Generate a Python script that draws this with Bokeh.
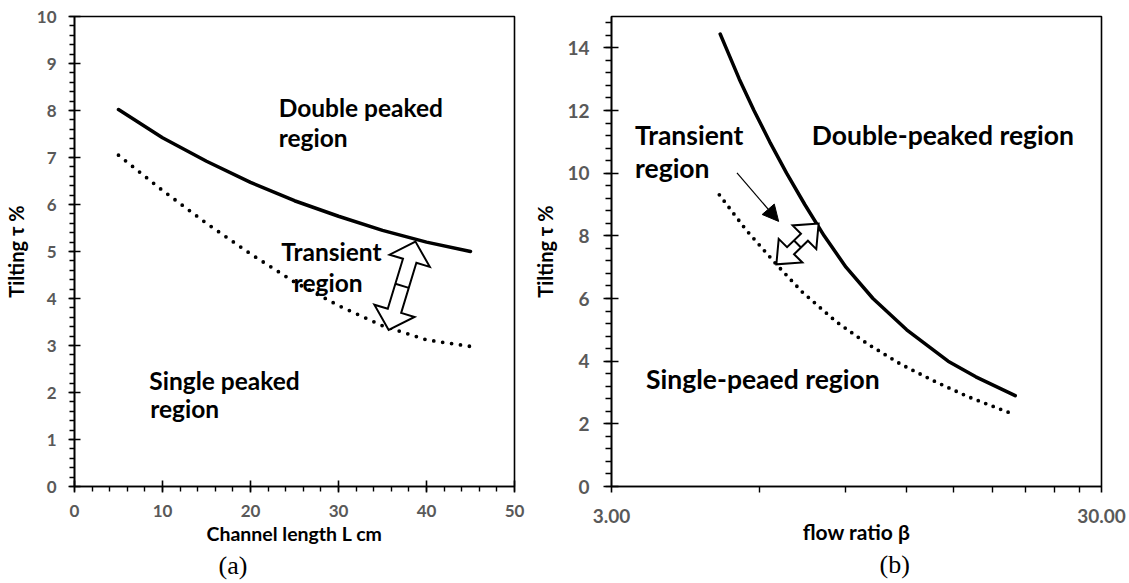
import math
from bokeh.plotting import figure
from bokeh.layouts import row
from bokeh.models import FixedTicker, PrintfTickFormatter, Title, Arrow, NormalHead
from bokeh.core.properties import value
from bokeh.embed import file_html
from bokeh.resources import INLINE

# ---------------- data: panel (a) ----------------
L_cm = [5, 10, 15, 20, 25, 30, 35, 40, 45]
tau_double_a = [8.02, 7.42, 6.92, 6.47, 6.08, 5.75, 5.45, 5.20, 5.00]
tau_single_a = [7.05, 6.30, 5.60, 4.95, 4.35, 3.85, 3.42, 3.12, 2.98]
x_ticks_a = [0, 10, 20, 30, 40, 50]
y_ticks_a = [0, 1, 2, 3, 4, 5, 6, 7, 8, 9, 10]

# ---------------- data: panel (b) ----------------
beta_double = [5.00, 5.14, 5.47, 5.86, 6.31, 6.83, 7.44, 8.15, 9.03, 10.25, 12.01, 14.59, 16.62, 20.0]
tau_double_b = [14.44, 14.0, 13.0, 12.0, 11.0, 10.0, 9.0, 8.0, 7.0, 6.0, 5.0, 4.0, 3.5, 2.90]
beta_single = [4.98, 5.64, 6.51, 7.36, 8.64, 10.02, 11.69, 13.68, 16.0, 19.5]
tau_single_b = [9.31, 8.20, 7.09, 6.20, 5.25, 4.54, 3.90, 3.36, 2.87, 2.35]
x_ticks_b = [3, 30]
y_ticks_b = [0, 2, 4, 6, 8, 10, 12, 14]

# annotation anchors (data coordinates)
arrow_a = [(38.75, 5.21), (35.7, 3.33)]
arrow_b = [(7.94, 8.39), (6.51, 7.09)]
pointer_b = [(5.41, 10.01), (6.58, 8.46)]

SANS = "Lato"
GREY = "#595959"


def style_axes(p, tick_font_size):
    for ax in (p.xaxis[0], p.yaxis[0]):
        ax.axis_line_color = "black"
        ax.axis_line_width = 1.6
        ax.major_tick_line_color = "black"
        ax.major_tick_line_width = 1.6
        ax.minor_tick_line_color = "black"
        ax.minor_tick_line_width = 1.4
        ax.major_label_text_font = SANS
        ax.major_label_text_font_style = "bold"
        ax.major_label_text_font_size = tick_font_size
        ax.major_label_text_color = GREY
        ax.axis_label_text_font = SANS
        ax.axis_label_text_font_style = "bold"
        ax.axis_label_text_color = "black"
    p.grid.visible = False
    p.outline_line_color = "black"
    p.outline_line_width = 1.6
    p.outline_line_alpha = 1.0


def block_arrow(p, a, b, to_px, from_px, shw, hl, hhw):
    x1, y1 = to_px(*a)
    x2, y2 = to_px(*b)
    dx, dy = x2 - x1, y2 - y1
    L = math.hypot(dx, dy)
    ux, uy = dx / L, dy / L
    nx, ny = -uy, ux
    pts = [
        (x1, y1),
        (x1 + ux * hl + nx * hhw, y1 + uy * hl + ny * hhw),
        (x1 + ux * hl + nx * shw, y1 + uy * hl + ny * shw),
        (x2 - ux * hl + nx * shw, y2 - uy * hl + ny * shw),
        (x2 - ux * hl + nx * hhw, y2 - uy * hl + ny * hhw),
        (x2, y2),
        (x2 - ux * hl - nx * hhw, y2 - uy * hl - ny * hhw),
        (x2 - ux * hl - nx * shw, y2 - uy * hl - ny * shw),
        (x1 + ux * hl - nx * shw, y1 + uy * hl - ny * shw),
        (x1 + ux * hl - nx * hhw, y1 + uy * hl - ny * hhw),
    ]
    dpts = [from_px(px, py) for px, py in pts]
    p.patch([q[0] for q in dpts], [q[1] for q in dpts], fill_color="white",
            line_color="black", line_width=2, line_join="miter")
    mx, my = (x1 + x2) / 2, (y1 + y2) / 2
    c1 = from_px(mx + nx * shw, my + ny * shw)
    c2 = from_px(mx - nx * shw, my - ny * shw)
    p.line([c1[0], c2[0]], [c1[1], c2[1]], line_color="black", line_width=2)


# ================= panel (a) =================
W1, H = 530, 583
mbl1, mbr1, mbt1, mbb1 = 74, 16, 16, 97
p1 = figure(width=W1, height=H, x_range=(0, 50), y_range=(0, 10),
            output_backend="svg", toolbar_location=None,
            min_border_left=mbl1, min_border_right=mbr1,
            min_border_top=mbt1, min_border_bottom=mbb1)
style_axes(p1, "17px")
p1.xaxis.ticker = FixedTicker(ticks=x_ticks_a,
                              minor_ticks=[x_ticks_a[0] + 2 * i for i in range(26)])
p1.yaxis.ticker = FixedTicker(ticks=y_ticks_a,
                              minor_ticks=[round(0.2 * i, 2) for i in range(51)])
p1.xaxis.major_tick_in = 6
p1.xaxis.major_tick_out = 6
p1.xaxis.minor_tick_in = 0
p1.xaxis.minor_tick_out = 5
p1.yaxis.major_tick_in = 6
p1.yaxis.major_tick_out = 6
p1.yaxis.minor_tick_in = 0
p1.yaxis.minor_tick_out = 5
p1.xaxis.major_label_standoff = 12
p1.yaxis.major_label_standoff = 12
p1.xaxis.axis_label = "Channel length L cm"
p1.yaxis.axis_label = "Tilting τ %"
p1.xaxis.axis_label_text_font_size = "19.5px"
p1.yaxis.axis_label_text_font_size = "20px"
p1.xaxis.axis_label_standoff = 2
p1.yaxis.axis_label_standoff = 6

p1.line(L_cm, tau_double_a, line_color="black", line_width=3.5,
        line_cap="round", line_join="round")
p1.line(L_cm, tau_single_a, line_color="black", line_width=3.8,
        line_dash="0 9", line_cap="round", line_join="round")

fw1 = W1 - mbl1 - mbr1
fh1 = H - mbt1 - mbb1
sx1, sy1 = fw1 / 50.0, fh1 / 10.0
block_arrow(p1, arrow_a[0], arrow_a[1],
            lambda x, y: (x * sx1, y * sy1),
            lambda px, py: (px / sx1, py / sy1),
            shw=7, hl=20, hhw=21)

labels_a = [("Double peaked", 23.2, 8.06), ("region", 23.2, 7.43),
            ("Transient", 23.5, 5.0), ("region", 24.9, 4.34),
            ("Single peaked", 8.5, 2.26), ("region", 8.6, 1.65)]
p1.text(x=[t[1] for t in labels_a], y=[t[2] for t in labels_a],
        text=[t[0] for t in labels_a], text_font=value(SANS),
        text_font_style="bold", text_font_size="24.5px", text_color="black",
        text_align="left", text_baseline="alphabetic")

p1.add_layout(Title(text="(a)", align="left", offset=144,
                    text_font="Liberation Serif", text_font_style="normal",
                    text_font_size="26px", text_color="black", standoff=2), "below")

# ================= panel (b) =================
W2 = 1129 - W1
mbl2, mbr2, mbt2, mbb2 = 608 - W1, 28, 10, 91
p2 = figure(width=W2, height=H, x_range=(3, 30), y_range=(0, 15),
            x_axis_type="log", output_backend="svg", toolbar_location=None,
            min_border_left=mbl2, min_border_right=mbr2,
            min_border_top=mbt2, min_border_bottom=mbb2)
style_axes(p2, "19px")
p2.xaxis.ticker = FixedTicker(ticks=x_ticks_b,
                              minor_ticks=[x_ticks_b[0] * k for k in range(2, 10)])
p2.xaxis.formatter = PrintfTickFormatter(format="%.2f")
p2.yaxis.ticker = FixedTicker(ticks=y_ticks_b,
                              minor_ticks=[round(0.4 * i, 2) for i in range(38)])
p2.xaxis.major_tick_in = 0
p2.xaxis.major_tick_out = 6
p2.xaxis.minor_tick_in = 0
p2.xaxis.minor_tick_out = 6
p2.yaxis.major_tick_in = 7
p2.yaxis.major_tick_out = 8
p2.yaxis.minor_tick_in = 0
p2.yaxis.minor_tick_out = 6
p2.xaxis.major_label_standoff = 16
p2.yaxis.major_label_standoff = 14
p2.xaxis.axis_label = "flow ratio β"
p2.yaxis.axis_label = "Tilting τ %"
p2.xaxis.axis_label_text_font_size = "21px"
p2.yaxis.axis_label_text_font_size = "20px"
p2.xaxis.axis_label_standoff = -7
p2.yaxis.axis_label_standoff = 7

p2.line(beta_double, tau_double_b, line_color="black", line_width=3.5,
        line_cap="round", line_join="round")
p2.line(beta_single, tau_single_b, line_color="black", line_width=3.8,
        line_dash="0 8", line_cap="round", line_join="round")

fw2 = W2 - mbl2 - mbr2
fh2 = H - mbt2 - mbb2
sx2, sy2 = fw2 / math.log10(30 / 3), fh2 / 15.0
block_arrow(p2, arrow_b[0], arrow_b[1],
            lambda x, y: (math.log10(x) * sx2, y * sy2),
            lambda px, py: (10 ** (px / sx2), py / sy2),
            shw=5, hl=20, hhw=17)

p2.add_layout(Arrow(end=NormalHead(size=16, fill_color="black", line_color="black"),
                    x_start=pointer_b[0][0], y_start=pointer_b[0][1],
                    x_end=pointer_b[1][0], y_end=pointer_b[1][1],
                    line_color="black", line_width=1.2))

labels_b = [("Transient", 3.35, 11.23), ("region", 3.35, 10.17),
            ("Double-peaked region", 7.69, 11.23),
            ("Single-peaed region", 3.53, 3.44)]
p2.text(x=[t[1] for t in labels_b], y=[t[2] for t in labels_b],
        text=[t[0] for t in labels_b], text_font=value(SANS),
        text_font_style="bold", text_font_size="26.5px", text_color="black",
        text_align="left", text_baseline="alphabetic")

p2.add_layout(Title(text="(b)", align="left", offset=268,
                    text_font="Liberation Serif", text_font_style="normal",
                    text_font_size="26px", text_color="black", standoff=2), "below")

layout = row(p1, p2)
open("out.html", "w").write(file_html(layout, INLINE))
